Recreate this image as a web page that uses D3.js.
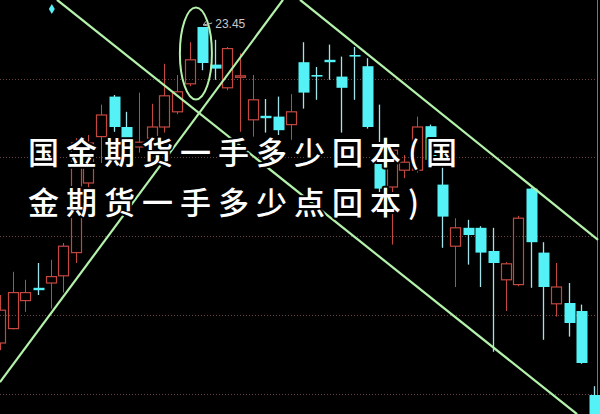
<!DOCTYPE html>
<html><head><meta charset="utf-8">
<script src="https://cdn.jsdelivr.net/npm/d3@7"></script>
<style>html,body{margin:0;padding:0;background:#000;overflow:hidden}</style>
</head><body><svg id="c" width="600" height="414"></svg>
<script>
// candle data (price units), index = trading day
const days   = [0,1,2,3,4,5,6,7,8,9,10,11,12,13,14,15,16,17,18,19,20,21,22,23,24,25,26,27,28,29,30,31,32,33,34,35,36,37,38,39,40,41,42,43,44,45,46,47];
const opens  = [19.50,19.68,20.03,20.19,20.25,20.34,20.63,21.50,22.08,22.58,22.20,21.95,22.06,22.20,22.39,22.74,23.45,22.98,22.69,22.83,22.29,22.34,22.33,22.23,23.01,22.85,23.04,22.83,23.10,22.96,21.83,21.45,21.66,21.66,22.21,21.48,20.71,20.94,20.94,20.65,20.29,20.23,21.43,20.63,19.99,20.00,19.90,18.85];
const closes = [19.91,20.13,20.13,20.16,20.33,20.71,22.00,22.00,22.35,22.20,22.04,22.01,22.20,22.59,22.64,23.04,23.00,22.93,23.18,22.84,22.54,22.31,22.16,22.39,22.63,22.83,23.01,22.69,23.08,22.20,21.43,21.91,21.76,22.20,21.79,21.08,20.94,20.85,20.63,20.50,20.49,21.06,20.76,20.20,20.20,19.75,19.25,18.41];
const highs  = [20.10,20.39,20.29,20.50,20.54,20.75,22.06,22.10,22.48,22.60,22.39,22.63,22.49,22.99,22.85,23.26,23.45,23.29,23.20,23.12,22.85,22.55,22.58,22.61,23.26,22.95,23.23,23.08,23.20,23.06,22.48,21.93,21.85,22.33,22.23,21.76,21.06,21.04,20.96,20.94,20.51,21.09,21.44,20.76,20.50,20.25,19.98,18.96];
const lows   = [19.41,19.67,19.89,20.10,19.93,20.13,20.50,21.38,21.75,22.14,22.01,21.88,21.95,22.13,22.36,22.71,22.91,22.79,22.66,22.14,22.08,22.13,22.10,22.04,22.43,22.54,22.79,22.13,22.54,22.18,21.33,20.73,21.56,21.63,21.70,20.69,20.20,20.48,20.20,19.39,19.90,20.21,20.19,19.54,19.83,19.58,19.24,18.35];
const gridValues = [22.80, 21.82, 20.84, 19.85, 18.86];
const peakLabel = "23.45";
const peakIndex = 16;
// trend lines: [startIndex, startPrice, endIndex, endPrice]
const trendLines = [
  [4.51, 23.79, 45.66, 18.61],
  [23.74, 23.79, 47.32, 20.79],
  [0.00, 19.01, 22.39, 23.79]
];
const titleLines = ["国金期货一手多少回本(国", "金期货一手多少点回本)"];

const svg = d3.select("#c");
const W = 600, H = 414;
svg.append("rect").attr("width", W).attr("height", H).attr("fill", "#000");

const x = d3.scaleLinear().domain([0, 47]).range([0, 594]);
const y = d3.scaleLinear().domain([18.5, 23.45]).range([423, 27]);

// grid
svg.append("g").selectAll("line").data(gridValues).join("line")
  .attr("x1", 0).attr("x2", W)
  .attr("y1", d => Math.round(y(d)) + 0.5).attr("y2", d => Math.round(y(d)) + 0.5)
  .attr("stroke", "#6a4444").attr("stroke-width", 1).attr("stroke-dasharray", "1,2");

// right border
svg.append("line").attr("x1", 597.5).attr("x2", 597.5).attr("y1", 0).attr("y2", H)
  .attr("stroke", "#777").attr("stroke-width", 1);

const data = days.map((d, i) => ({i: d, o: opens[i], c: closes[i], h: highs[i], l: lows[i]}));
const bw = 10;
const UP = "#c44840", DN = "#54f2f6", DNW = "#a4e2ea";

const g = svg.append("g");
data.forEach(d => {
  const cx = Math.round(x(d.i)) + 0.5;
  const up = d.c >= d.o;
  const top = y(Math.max(d.o, d.c)), bot = y(Math.min(d.o, d.c));
  const bh = Math.max(1.5, bot - top);
  if (up) {
    g.append("line").attr("x1", cx).attr("x2", cx).attr("y1", y(d.h)).attr("y2", top)
      .attr("stroke", UP).attr("stroke-width", 1);
    g.append("line").attr("x1", cx).attr("x2", cx).attr("y1", top + bh).attr("y2", y(d.l))
      .attr("stroke", UP).attr("stroke-width", 1);
    g.append("rect").attr("x", cx - bw / 2).attr("y", top).attr("width", bw).attr("height", bh)
      .attr("fill", "none").attr("stroke", UP).attr("stroke-width", 1.2);
  } else {
    g.append("line").attr("x1", cx).attr("x2", cx).attr("y1", y(d.h)).attr("y2", y(d.l))
      .attr("stroke", DNW).attr("stroke-width", 1.3);
    g.append("rect").attr("x", cx - bw / 2).attr("y", top).attr("width", bw + 1).attr("height", bh)
      .attr("fill", DN);
  }
});

// small cyan marker top-left
svg.append("path")
  .attr("d", d3.symbol().type(d3.symbolDiamond).size(30)())
  .attr("transform", `translate(${x(4.1)},${y(23.40) - 22})`)
  .attr("fill", DN);

// trend lines
svg.append("g").selectAll("line").data(trendLines).join("line")
  .attr("x1", d => x(d[0])).attr("y1", d => y(d[1]))
  .attr("x2", d => x(d[2])).attr("y2", d => y(d[3]))
  .attr("stroke", "#b4f2ac").attr("stroke-width", 2.2);

// ellipse around peak
svg.append("ellipse")
  .attr("cx", x(15.5)).attr("cy", y(23.12))
  .attr("rx", 16).attr("ry", 46)
  .attr("fill", "none").attr("stroke", "#b4f2ac").attr("stroke-width", 2);

// peak label
const px = x(peakIndex), py = y(highs[peakIndex]);
svg.append("path")
  .attr("d", `M${px + 1},${py - 2} L${px + 10},${py - 4} M${px + 1},${py - 2} l3,-4 M${px + 1},${py - 2} l5,1`)
  .attr("stroke", "#bbb").attr("stroke-width", 1).attr("fill", "none");
svg.append("text").attr("x", px + 13).attr("y", py + 1)
  .attr("font-family", "Liberation Sans, Arial, sans-serif").attr("font-size", 12)
  .attr("fill", "#c8c8c8").text(peakLabel);

// title overlay
svg.append("g").selectAll("text").data(titleLines).join("text")
  .attr("x", 28).attr("y", (d, i) => 164 + i * 50)
  .attr("font-family", "Noto Sans CJK SC, sans-serif")
  .attr("font-size", 31).attr("font-weight", 500)
  .style("letter-spacing", "7px")
  .attr("fill", "#fff").attr("stroke", "#000").attr("stroke-width", 4)
  .attr("stroke-linejoin", "round")
  .style("paint-order", "stroke")
  .text(d => d);
</script>
</body></html>
